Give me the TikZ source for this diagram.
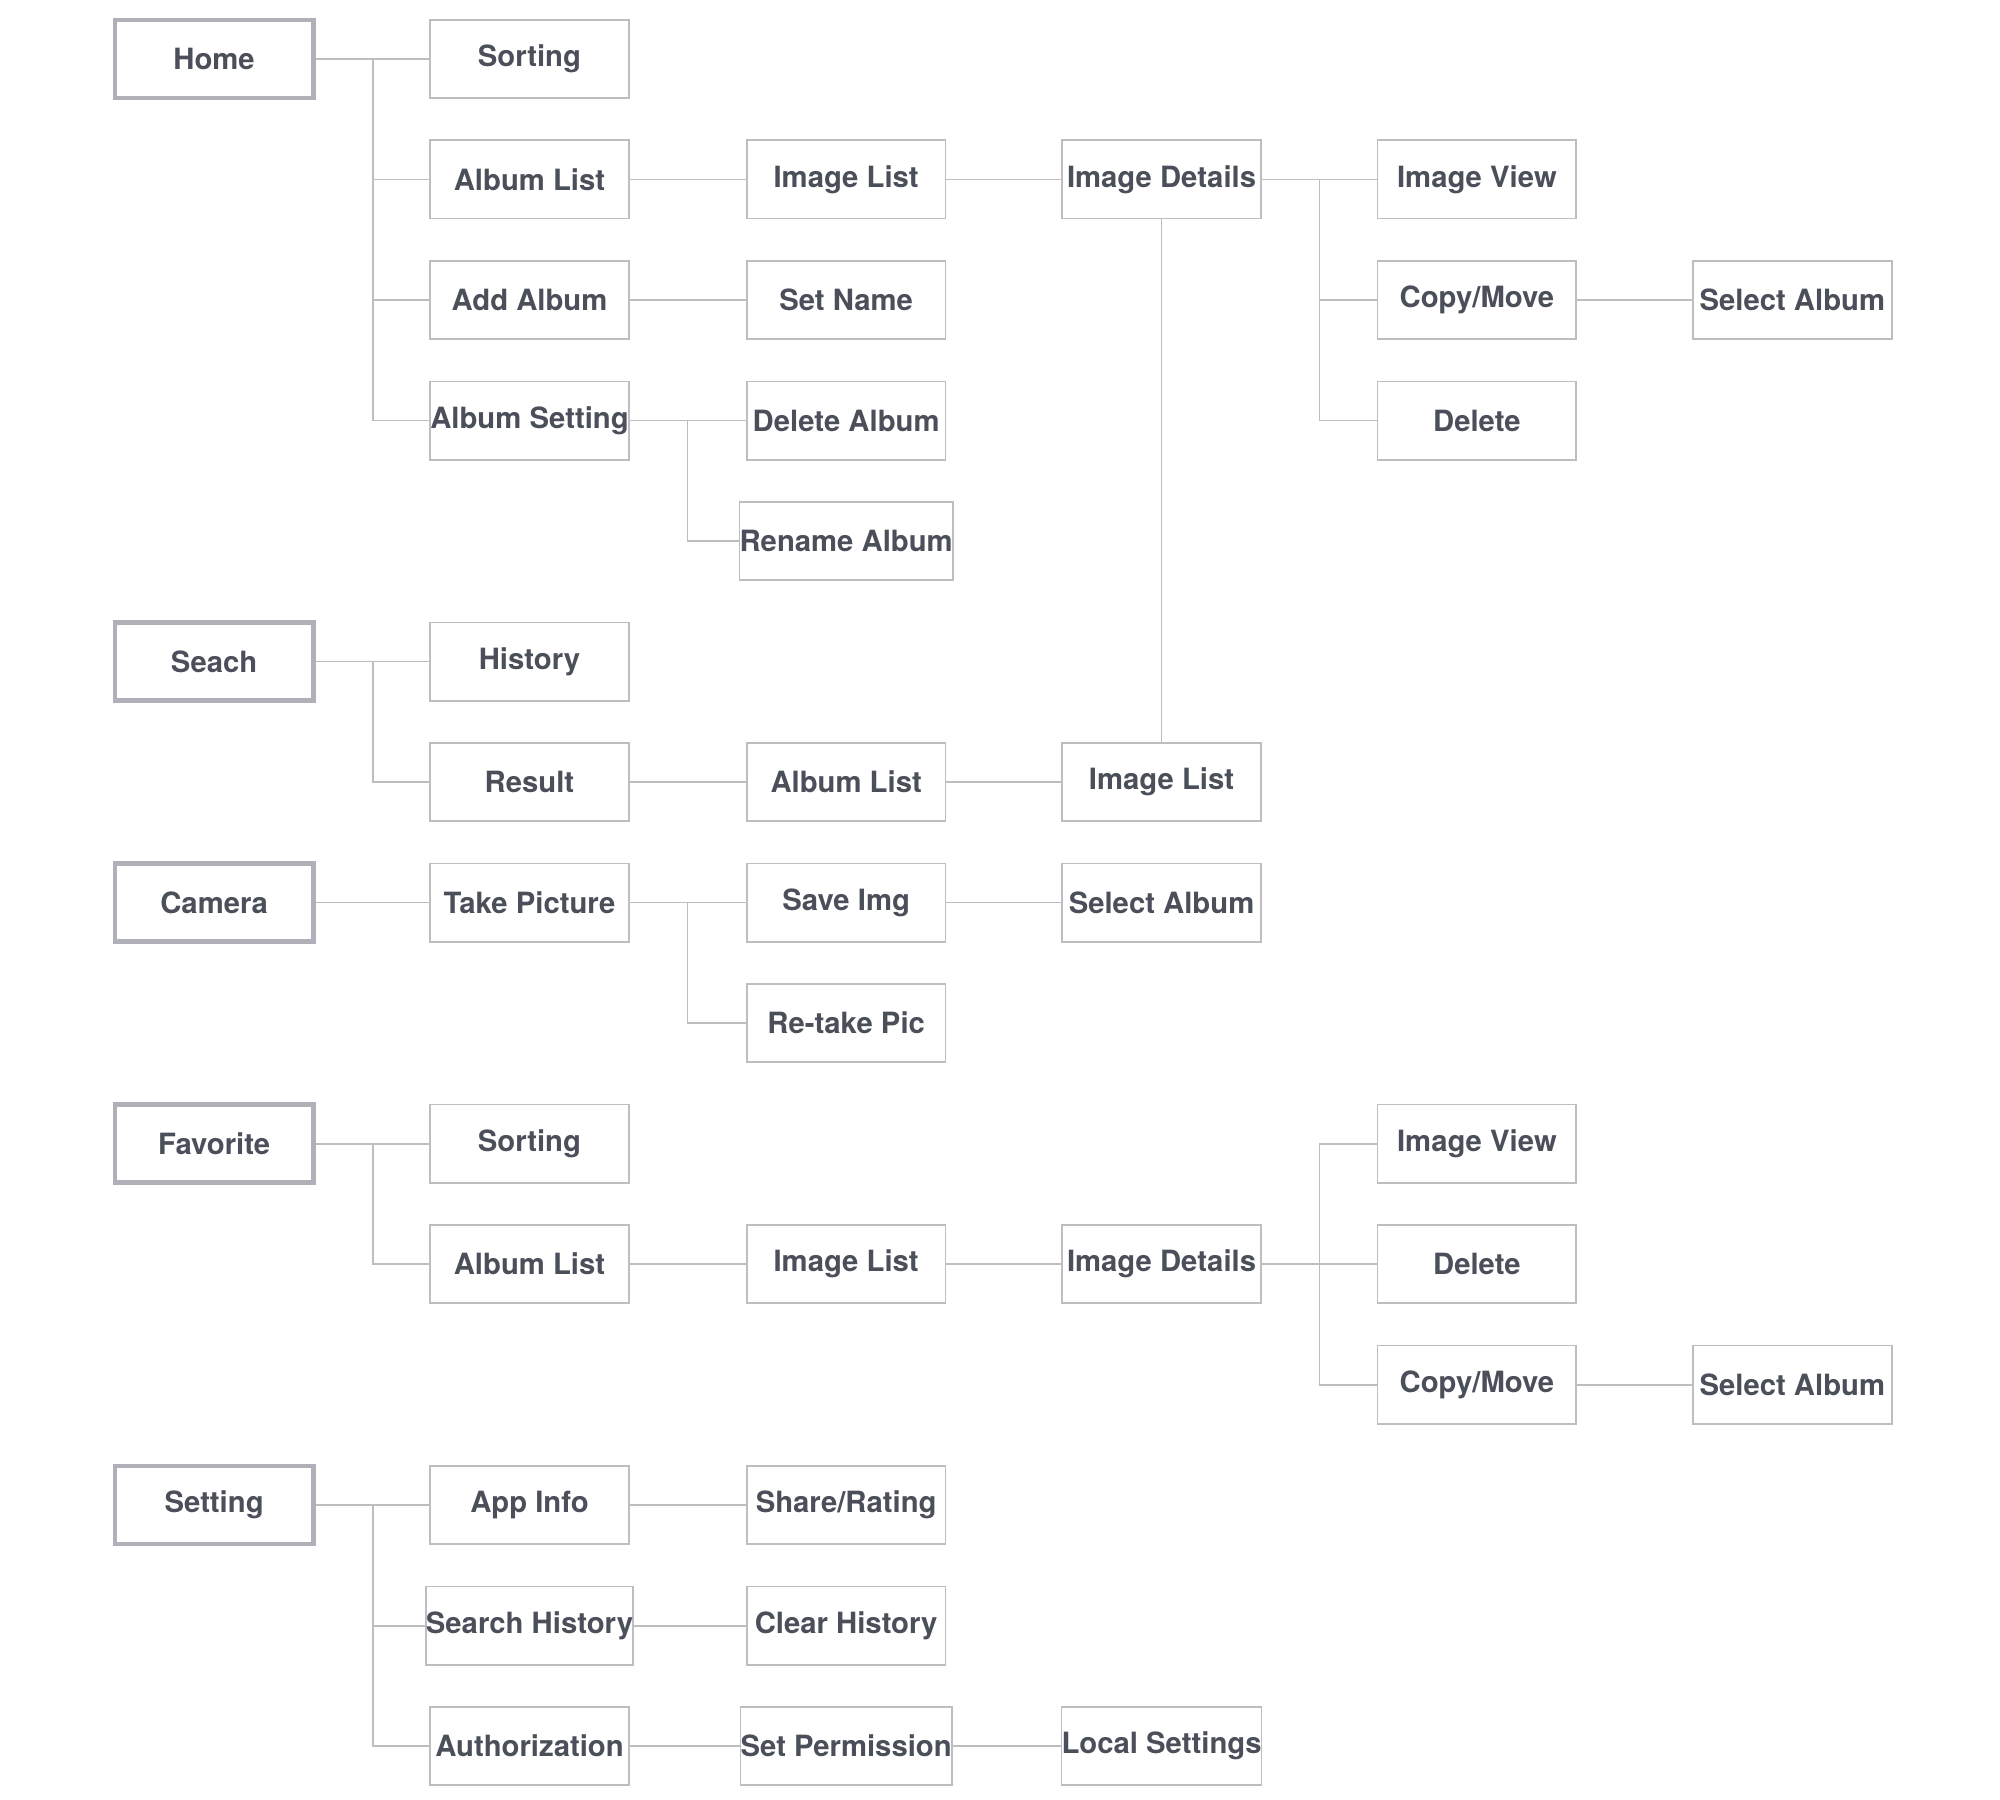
\documentclass[tikz,border=0pt]{standalone}
\usepackage{fontspec}
\setmainfont{TeX Gyre Heros}
\definecolor{txtgray}{HTML}{4A4F5A}
\definecolor{boxgray}{HTML}{BDBDC2}
\definecolor{rootgray}{HTML}{B0B0B8}
\tikzset{
  page/.style={draw=boxgray,line width=0.8pt,minimum width=3.1cm,minimum height=1.22cm,
    text=txtgray,font=\fontsize{13}{15}\selectfont\bfseries,inner sep=0pt},
  root/.style={page,draw=rootgray,line width=2pt},
  link/.style={draw=boxgray,line width=0.8pt}
}
\newcommand{\branch}[2]{\draw[link] (#1.east) -- ++(45,0) |- (#2.west);}
\begin{document}
\begin{tikzpicture}[x=0.02cm,y=-0.02cm]
\useasboundingbox (0,0) rectangle (1560,1404);

% columns
\def\ca{167} \def\cb{413} \def\cc{660} \def\cd{906} \def\ce{1152} \def\cf{1398}

% Home
\node[root] (home) at (\ca,46) {Home};
\node[page] (hsort) at (\cb,46) {Sorting};
\node[page] (halbum) at (\cb,140) {Album List};
\node[page] (hadd) at (\cb,234) {Add Album};
\node[page] (hset) at (\cb,328) {Album Setting};
\node[page] (himg) at (\cc,140) {Image List};
\node[page] (hname) at (\cc,234) {Set Name};
\node[page] (hdel) at (\cc,328) {Delete Album};
\node[page] (hren) at (\cc,422) {Rename Album};
\node[page] (hdet) at (\cd,140) {Image Details};
\node[page] (hview) at (\ce,140) {Image View};
\node[page] (hcopy) at (\ce,234) {Copy/Move};
\node[page] (hdelete) at (\ce,328) {Delete};
\node[page] (hsel) at (\cf,234) {Select Album};

% Seach
\node[root] (search) at (\ca,516) {Seach};
\node[page] (shist) at (\cb,516) {History};
\node[page] (sres) at (\cb,610) {Result};
\node[page] (salbum) at (\cc,610) {Album List};
\node[page] (simg) at (\cd,610) {Image List};

% Camera
\node[root] (camera) at (\ca,704) {Camera};
\node[page] (ctake) at (\cb,704) {Take Picture};
\node[page] (csave) at (\cc,704) {Save Img};
\node[page] (cretake) at (\cc,798) {Re-take Pic};
\node[page] (csel) at (\cd,704) {Select Album};

% Favorite
\node[root] (fav) at (\ca,892) {Favorite};
\node[page] (fsort) at (\cb,892) {Sorting};
\node[page] (falbum) at (\cb,986) {Album List};
\node[page] (fimg) at (\cc,986) {Image List};
\node[page] (fdet) at (\cd,986) {Image Details};
\node[page] (fview) at (\ce,892) {Image View};
\node[page] (fdelete) at (\ce,986) {Delete};
\node[page] (fcopy) at (\ce,1080) {Copy/Move};
\node[page] (fsel) at (\cf,1080) {Select Album};

% Setting
\node[root] (setting) at (\ca,1174) {Setting};
\node[page] (tinfo) at (\cb,1174) {App Info};
\node[page] (thist) at (\cb,1268) {Search History};
\node[page] (tauth) at (\cb,1362) {Authorization};
\node[page] (tshare) at (\cc,1174) {Share/Rating};
\node[page] (tclear) at (\cc,1268) {Clear History};
\node[page] (tperm) at (\cc,1362) {Set Permission};
\node[page] (tlocal) at (\cd,1362) {Local Settings};

% connectors
\foreach \c in {hsort,halbum,hadd,hset} {\branch{home}{\c}}
\foreach \a/\b in {halbum/himg,hadd/hname,himg/hdet,hcopy/hsel,
    sres/salbum,salbum/simg,camera/ctake,csave/csel,
    falbum/fimg,fimg/fdet,fcopy/fsel,
    tinfo/tshare,thist/tclear,tauth/tperm,tperm/tlocal}
  {\draw[link] (\a) -- (\b);}
\foreach \c in {hdel,hren} {\branch{hset}{\c}}
\foreach \c in {hview,hcopy,hdelete} {\branch{hdet}{\c}}
\draw[link] (hdet) -- (simg);
\foreach \c in {shist,sres} {\branch{search}{\c}}
\foreach \c in {csave,cretake} {\branch{ctake}{\c}}
\foreach \c in {fsort,falbum} {\branch{fav}{\c}}
\foreach \c in {fview,fdelete,fcopy} {\branch{fdet}{\c}}
\foreach \c in {tinfo,thist,tauth} {\branch{setting}{\c}}
\end{tikzpicture}
\end{document}
